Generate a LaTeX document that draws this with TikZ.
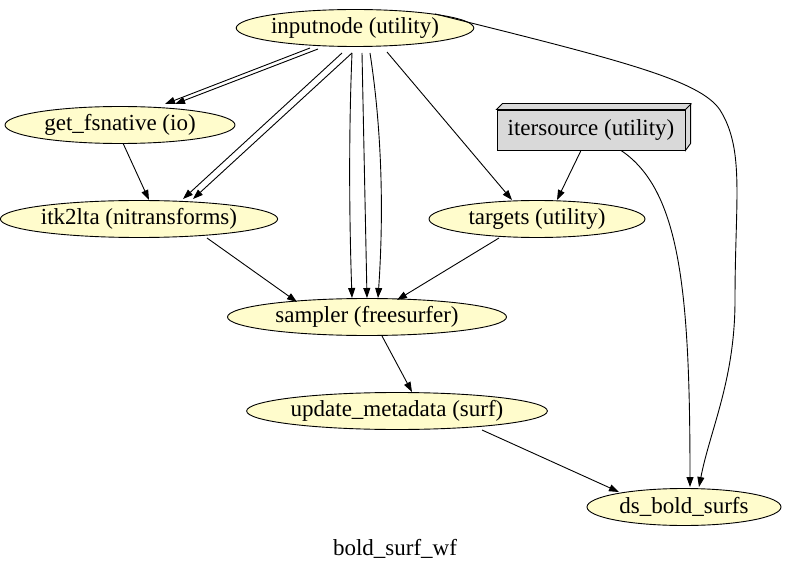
\documentclass[tikz,border=0pt]{standalone}
\usepackage{fontspec}
\setmainfont{Liberation Serif}
\usetikzlibrary{arrows.meta,shapes.geometric}
\begin{document}
\begin{tikzpicture}[x=1pt,y=-1pt,line width=0.9pt,
  el/.style={ellipse,draw,fill=yellow!20,inner sep=0pt,font=\fontsize{23}{25}\selectfont},
  e/.style={-{Triangle[length=10pt,width=7pt]},black},
  bb/.style={draw,fill=gray!30,font=\fontsize{23}{25}\selectfont,minimum width=188pt,minimum height=40pt}]
\useasboundingbox (0,0) rectangle (789,569);
\node[el,minimum width=228pt,minimum height=37pt] (in) at (355,28) {inputnode (utility)};
\node[el,minimum width=230pt,minimum height=37pt] (gf) at (120,125) {get\_fsnative (io)};
\node[bb] (it) at (591,130) {itersource (utility)};
\draw[fill=gray!30] (it.north west) -- ++(6,-6) -- ++(188,0) -- ++(0,40) -- (it.south east) -- (it.north east) -- cycle;
\draw ([shift={(6,-6)}]it.north east) -- (it.north east);
\node[el,minimum width=266pt,minimum height=37pt] (ik) at (139,219) {itk2lta (nitransforms)};
\node[el,minimum width=216pt,minimum height=37pt] (tg) at (537,219) {targets (utility)};
\node[el,minimum width=279pt,minimum height=37pt] (sa) at (367,317) {sampler (freesurfer)};
\node[el,minimum width=259pt,minimum height=37pt] (um) at (397,411) {update\_metadata (surf)};
\node[el,minimum width=194pt,minimum height=37pt] (ds) at (684,507) {ds\_bold\_surfs};
\node[font=\fontsize{23}{25}\selectfont] (lab) at (395,549) {bold\_surf\_wf};
\draw[e] ([shift={(-45,20)}]in.center) -- ([shift={(45,-21)}]gf.center);
\draw[e] ([shift={(-37,21)}]in.center) -- ([shift={(55,-21)}]gf.center);
\draw[e] ([shift={(-13,25)}]in.center) -- ([shift={(44,-20)}]ik.center);
\draw[e] ([shift={(-3,25)}]in.center) -- ([shift={(54,-20)}]ik.center);
\draw[e] ([shift={(-3,25)}]in.center) .. controls (348,150) and (350,240) .. ([shift={(-15,-19)}]sa.center);
\draw[e] ([shift={(7,25)}]in.center) -- ([shift={(0,-19)}]sa.center);
\draw[e] ([shift={(15,25)}]in.center) .. controls (385,150) and (382,240) .. ([shift={(11,-19)}]sa.center);
\draw[e] ([shift={(32,24)}]in.center) -- ([shift={(-25,-19)}]tg.center);
\draw[e] (in.10) .. controls (620,60) and (700,80) .. (720,110) .. controls (745,150) and (735,200) .. (735,300) .. controls (735,380) and (710,430) .. ([shift={(15,-20)}]ds.center);
\draw[e] (gf.-80) -- ([shift={(10,-19)}]ik.center);
\draw[e] ([shift={(-10,0)}]it.south) -- ([shift={(20,-19)}]tg.center);
\draw[e] ([shift={(30,0)}]it.south) .. controls (680,190) and (690,290) .. ([shift={(6,-20)}]ds.center);
\draw[e] ([shift={(68,19)}]ik.center) -- ([shift={(-70,-15)}]sa.center);
\draw[e] ([shift={(-38,19)}]tg.center) -- ([shift={(30,-17)}]sa.center);
\draw[e] ([shift={(15,19)}]sa.center) -- ([shift={(15,-19)}]um.center);
\draw[e] ([shift={(85,19)}]um.center) -- ([shift={(-65,-15)}]ds.center);
\end{tikzpicture}
\end{document}
